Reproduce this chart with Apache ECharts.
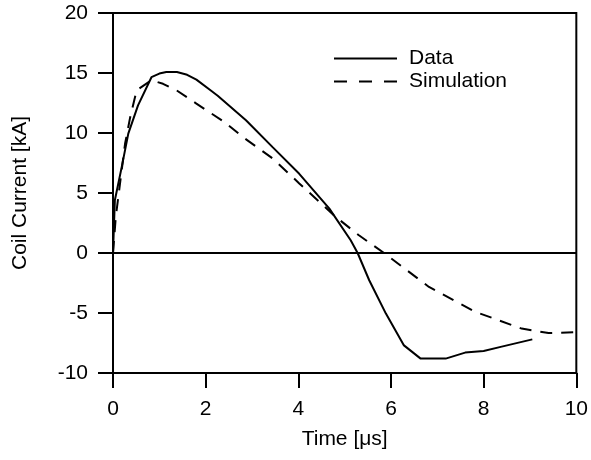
<!DOCTYPE html>
<html lang="en">
<head>
    <meta charset="UTF-8" />
    <title>Coil Current</title>
    <script src="https://cdn.jsdelivr.net/npm/echarts@6/dist/echarts.min.js"></script>
    <style>
        body { margin: 0; background: #fff; }
    </style>
</head>
<body>
    <div id="main" style="width: 591px; height: 460px"></div>
    <script>
        // measured coil current vs. simulation
        var dataTime = [0, 0.04, 0.19, 0.33, 0.54, 0.83, 1.0, 1.15, 1.38, 1.6, 1.8, 2.09, 2.26, 2.87, 3.45, 4.02, 4.67, 5.13, 5.28, 5.53, 5.89, 6.28, 6.64, 7.18, 7.6, 8.0, 8.39, 9.05]
        var dataCurrent = [0, 4.4, 7.2, 9.95, 12.3, 14.65, 14.95, 15.08, 15.08, 14.85, 14.45, 13.6, 13.1, 11.06, 8.8, 6.6, 3.7, 1.06, 0, -2.27, -5.05, -7.7, -8.8, -8.8, -8.3, -8.17, -7.8, -7.2]

        var simTime = [0, 0.06, 0.26, 0.37, 0.51, 0.83, 1.08, 1.37, 1.8, 2.41, 2.8, 3.45, 4.02, 4.81, 5.3, 5.85, 6.82, 7.82, 8.82, 9.4, 10]
        var simCurrent = [0, 3.0, 9.1, 11.3, 13.55, 14.4, 14.1, 13.56, 12.45, 10.9, 9.67, 7.87, 5.8, 3.0, 1.5, 0, -2.83, -4.9, -6.3, -6.67, -6.6]

        var xTicks = [0, 2, 4, 6, 8, 10]
        var yTicks = [-10, -5, 0, 5, 10, 15, 20]

        function pairs(xs, ys) {
            var out = []
            for (var i = 0; i < xs.length; i++) {
                out.push([xs[i], ys[i]])
            }
            return out
        }

        var font = "'Liberation Sans', Arial, sans-serif"
        // legend swatches: solid bar and three dashes
        var solidIcon = 'path://M0,0h63v2h-63z'
        var dashIcon = 'path://M0,0h13v2h-13z M25,0h13v2h-13z M50,0h13v2h-13z'

        var mCharts = echarts.init(document.getElementById('main'))

        var option = {
            animation: false,
            textStyle: { fontFamily: font, color: '#000' },
            grid: {
                left: 113, right: 13, top: 13, bottom: 87,
                show: true, borderColor: '#000', borderWidth: 2
            },
            legend: {
                orient: 'vertical',
                left: 329, top: 43, padding: 5,
                itemWidth: 63, itemHeight: 2, itemGap: 2,
                textStyle: { fontSize: 21, color: '#000', fontFamily: font, padding: [0, 0, 0, 7] },
                data: [
                    { name: 'Data', icon: solidIcon },
                    { name: 'Simulation', icon: dashIcon }
                ]
            },
            xAxis: {
                type: 'value',
                min: xTicks[0], max: xTicks[xTicks.length - 1], interval: 2,
                name: 'Time [\u03bcs]',
                nameLocation: 'middle', nameGap: 56,
                nameTextStyle: { fontSize: 21, color: '#000' },
                axisLine: { onZero: false, lineStyle: { color: '#000', width: 2 } },
                axisTick: { length: 15, lineStyle: { width: 2 } },
                axisLabel: { fontSize: 21, color: '#000', margin: 26 },
                splitLine: { show: false }
            },
            yAxis: {
                type: 'value',
                min: yTicks[0], max: yTicks[yTicks.length - 1], interval: 5,
                name: 'Coil Current [kA]',
                nameLocation: 'middle', nameGap: 82, nameRotate: 90,
                nameTextStyle: { fontSize: 21, color: '#000' },
                axisLine: { show: true, onZero: false, lineStyle: { color: '#000', width: 2 } },
                axisTick: { show: true, length: 15, lineStyle: { width: 2 } },
                axisLabel: { fontSize: 21, color: '#000', margin: 25 },
                splitLine: { show: false }
            },
            series: [
                {
                    name: 'Data',
                    type: 'line',
                    data: pairs(dataTime, dataCurrent),
                    symbol: 'none',
                    lineStyle: { color: '#000', width: 2 },
                    itemStyle: { color: '#000' },
                    markLine: {
                        silent: true,
                        symbol: 'none',
                        label: { show: false },
                        lineStyle: { color: '#000', width: 2, type: 'solid' },
                        data: [{ yAxis: 0 }]
                    }
                },
                {
                    name: 'Simulation',
                    type: 'line',
                    data: pairs(simTime, simCurrent),
                    symbol: 'none',
                    lineStyle: { color: '#000', width: 2, type: [12, 9] },
                    itemStyle: { color: '#000' }
                }
            ]
        }
        mCharts.setOption(option)
    </script>
</body>
</html>
